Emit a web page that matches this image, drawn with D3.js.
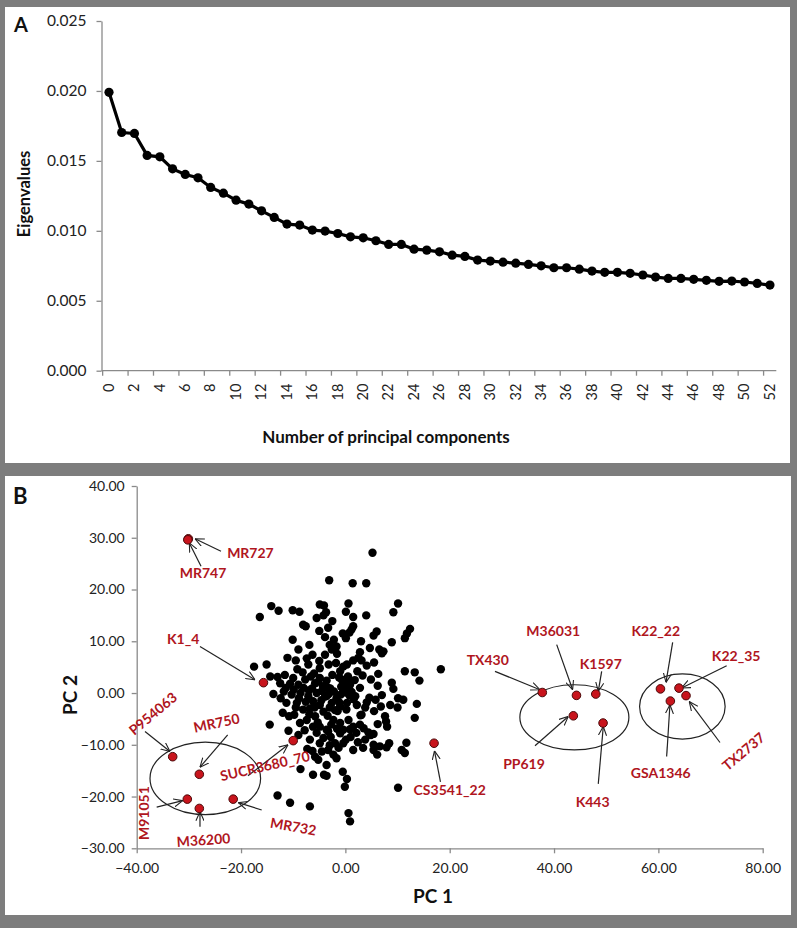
<!DOCTYPE html>
<html><head><meta charset="utf-8">
<script src="https://cdn.jsdelivr.net/npm/d3@7"></script>
<style>
body{margin:0;background:#fff}
svg{display:block}
text{font-family:Lato,"Open Sans",sans-serif}
</style>
</head><body>
<svg id="chart" width="797" height="928"></svg>
<script>
// ---------- DATA ----------
const components = [0,1,2,3,4,5,6,7,8,9,10,11,12,13,14,15,16,17,18,19,20,21,22,23,24,25,26,27,28,29,30,31,32,33,34,35,36,37,38,39,40,41,42,43,44,45,46,47,48,49,50,51,52];
const eigenvalues = [0.0199,0.01703,0.01696,0.01539,0.01529,0.01443,0.01403,0.01379,0.01310,0.01269,
  0.01219,0.01191,0.01143,0.01096,0.01048,0.01041,0.01005,0.00998,0.00981,0.00957,
  0.00950,0.00929,0.00903,0.00903,0.00869,0.00862,0.00850,0.00826,0.00817,0.00791,
  0.00784,0.00776,0.00769,0.00760,0.00750,0.00736,0.00736,0.00726,0.00712,0.00703,
  0.00703,0.00696,0.00684,0.00669,0.00660,0.00660,0.00653,0.00646,0.00639,0.00641,
  0.00634,0.00624,0.00612];
const eigenTicks = [0,0.005,0.010,0.015,0.020,0.025];
const componentLabels = [0,2,4,6,8,10,12,14,16,18,20,22,24,26,28,30,32,34,36,38,40,42,44,46,48,50,52];

const pc1Ticks = [-40,-20,0,20,40,60,80];
const pc2Ticks = [-30,-20,-10,0,10,20,30,40];

// unlabelled accessions [PC1, PC2]
const accessions = [
 [5.2,27.1],[-3.1,21.8],[1.4,21.2],[4.0,21.2],
 [-14.2,16.8],[-12.8,15.9],[-16.4,14.7],[-10.1,16.0],[-8.8,15.7],[-4.9,17.1],[-4.1,16.9],[-5.5,14.5],[-3.7,15.6],[-4.2,15.0],[0.1,15.7],[0.6,17.3],[1.5,14.7],[4.0,15.0],[10.1,17.3],[9.2,15.6],
 [-8.1,13.2],[-7.6,12.9],[-3.3,12.6],[1.5,12.9],[1.2,12.3],[0.8,11.7],[6.0,11.9],[5.4,11.1],[12.4,12.4],[11.8,11.5],[11.4,10.6],
 [-10.1,10.3],[-3.9,10.8],[-2.2,10.3],[-0.5,11.5],[0.1,10.6],[-6.9,9.3],[-9.0,8.4],[-3.0,9.3],[-1.7,9.0],[-2.6,8.4],[-6.3,7.4],[-3.9,7.4],[-1.6,7.6],[2.8,7.9],[2.5,6.8],[4.7,8.7],[6.5,8.4],[7.0,7.7],[8.9,9.8],[7.3,8.05],
 [-11.1,6.8],[-9.5,6.3],[-7.1,5.5],[-4.9,4.8],[-0.4,5.1],[0.3,5.5],[1.5,6.3],[3.1,6.3],[4.1,5.3],[5.5,5.9],[6.3,3.7],[11.4,4.2],[13.3,4.0],[14.2,2.4],
 [-17.5,5.1],[-15.1,5.5],[-14.4,3.2],[-13.0,3.1],[-11.6,3.5],[-12.5,1.9],[-11.4,1.0],
 [-10.0,2.9],[-9.0,1.6],[-7.7,2.6],[-6.6,3.2],[-5.8,1.9],[-4.9,2.9],[-3.6,2.4],[-4.3,1.3],[-3.3,1.0],
 [-0.7,2.6],[-0.1,1.9],[0.3,1.3],[-0.4,0.6],[0.9,1.6],[2.8,1.0],[8.9,2.0],[9.2,0.8],[10.1,-1.0],[11.1,-1.3],[8.6,-2.3],[10.0,-2.8],[13.7,-2.1],[13.3,-4.8],
 [-12.4,-1.0],[-11.3,-1.9],[-10.3,-0.3],[-9.3,-1.9],[-8.6,0.0],[-8.1,-3.2],
 [-7.1,-0.6],[-6.2,-1.6],[-5.5,0.0],[-4.9,-2.3],[-3.6,-0.6],[-2.6,-1.9],[-4.2,-3.6],
 [-1.7,-1.0],[-1.0,-2.6],[0.3,-1.9],[1.9,-0.6],[2.2,-2.3],[3.1,-4.2],
 [-12.0,-3.8],[-9.8,-4.2],[-8.7,-5.8],[-7.4,-5.2],[-14.5,-6.1],
 [-6.2,-6.5],[-4.9,-6.5],[-3.6,-7.1],
 [-2.3,-5.2],[-1.0,-5.8],[-0.4,-7.1],[0.6,-5.2],[1.5,-6.5],[2.8,-6.1],[2.9,-4.3],
 [4.4,-7.6],[5.4,-7.9],[4.9,-8.1],[7.6,-4.5],[7.8,-5.5],[8.0,-6.5],[8.4,-9.7],[7.9,-10.5],[10.8,-11.0],[11.4,-11.6],[11.7,-9.6],
 [3.4,-10.6],[5.4,-10.0],[6.6,-10.3],[5.4,-11.0],[6.1,-11.9],
 [1.5,-11.0],[-0.4,-9.7],[-2.0,-9.7],[-2.3,-11.9],[-1.7,-12.6],
 [-4.2,-8.7],[-4.9,-9.7],[-5.5,-7.7],[-3.3,-7.4],
 [-5.8,-12.3],[-5.2,-12.9],[-4.5,-11.3],[-3.3,-11.0],[-3.6,-13.9],
 [-8.6,-14.7],[-6.2,-15.8],[-4.1,-15.8],[-3.6,-16.0],[-0.5,-15.2],[0.3,-16.6],[-0.1,-18.1],[10.1,-18.3],
 [-13.0,-19.8],[-10.6,-21.2],[-6.8,-21.9],[0.6,-23.2],[0.9,-24.8],
 [18.3,4.6],
 [-8.0,1.0],[-7.0,0.5],[-6.0,3.8],[-5.2,2.2],[-2.5,3.5],[-1.2,3.0],[0.5,3.2],[1.8,2.5],[-0.9,-0.3],[0.8,-0.5],[1.2,0.2],[-2.2,0.3],
 [-3.0,-2.8],[-6.8,-3.0],[-5.8,-4.5],[-9.5,-2.8],[-10.8,-4.5],[-7.8,-7.2],[-1.5,-3.5],[0.2,-3.2],[1.0,-8.5],[-2.8,-8.5],[-1.0,-7.8],
 [3.8,-2.8],[4.6,-0.9],[5.5,-3.5],[6.2,-6.0],[-11.8,0.3],[-10.6,1.8],[-13.8,-0.2],[2.3,4.2],[-1.8,5.8],[-5.0,6.2],[-8.2,4.0],
 [-3.9,-0.7],[-3.2,-0.2],[-4.5,0.4],[-2.9,0.9],[-0.3,2.0],[0.5,2.4],[-0.8,1.2],[0.1,0.1],[1.6,-1.2],[-1.2,-1.8],
 [-2.0,-3.3],[-3.4,-4.4],[-5.3,-5.7],[-6.9,-4.1],[-8.9,-1.0],[-9.9,0.7],[-7.6,-1.7],[-6.4,0.9],[-4.6,-1.4],[-5.9,-2.8],
 [-2.7,-6.1],[-1.6,-6.9],[0.9,-7.0],[2.1,-7.7],[3.5,-6.8],[0.1,-9.0],[-1.3,-10.6],[-3.0,-10.1],[-6.8,-9.0],[-7.3,-10.8],
 [-6.3,-11.2],[-9.0,-8.1],[-10.9,-7.3],[3.8,-9.0],[2.4,-9.5],[4.1,-1.8],[5.8,-1.3],[6.8,-2.6],[7.0,-0.4],
 [6.2,1.4],[4.9,2.6],[3.3,3.4],[-1.0,4.2],[-3.2,5.5],[-7.4,6.7],[-9.2,4.6],[-2.5,13.9],[3.0,10.0],[-5.0,12.0]
];

// highlighted accessions
const highlightNames = ["MR727","MR747","K1_4","P954063","MR750","SUCR3680_70","M91051","M36200","MR732","CS3541_22",
  "TX430","M36031","K1597","PP619","K443","K22_22","K22_35","GSA1346","TX2737"];
const highlightPC1 = [-30.1,-30.2,-15.7,-33.1,-28.0,-10.0,-30.3,-28.0,-21.5,17.0,37.75,44.3,48.0,43.7,49.4,60.4,63.95,62.3,65.3];
const highlightPC2 = [29.8,29.6,2.0,-12.3,-15.7,-9.2,-20.5,-22.3,-20.5,-9.7,0.1,-0.45,-0.2,-4.4,-5.8,0.8,0.95,-1.55,-0.5];

// ---------- LAYOUT (annotation placement in data units) ----------
// [labelX, labelY, rotation, arrowFromX, arrowFromY, arrowToX, arrowToY]
const labelLayout = {
  "MR727":[-18.2,27.1,0,-23.84,27.4,-28.82,29.8],
  "MR747":[-27.3,23.2,0,-27.67,24.5,-29.92,29.0],
  "K1_4":[-31.1,10.45,0,-27.87,9.0,-17.32,2.57],
  "P954063":[-36.9,-4.0,-40,-38.41,-7.43,-33.62,-11.3],
  "MR750":[-24.7,-5.8,-12,-22.56,-8.07,-27.87,-14.32],
  "SUCR3680_70":[-15.4,-14.1,-13,-18.67,-16.0,-11.0,-10.0],
  "M91051":[-38.7,-23.2,-90,-36.17,-22.06,-31.18,-20.79],
  "M36200":[-27.2,-28.4,-4,-27.87,-25.82,-27.87,-22.92],
  "MR732":[-10.0,-25.8,10,-16.04,-22.59,-20.52,-21.17],
  "CS3541_22":[20.0,-18.7,0,18.23,-17.17,17.08,-11.17],
  "TX430":[27.3,6.3,0,28.68,4.18,37.3,0.64],
  "M36031":[39.85,11.9,0,40.51,9.35,43.57,0.64],
  "K1597":[48.96,5.67,0,49.13,4.18,48.48,0.31],
  "PP619":[34.24,-13.7,0,36.35,-10.2,42.73,-4.53],
  "K443":[47.4,-21.0,0,48.48,-17.55,49.44,-6.46],
  "K22_22":[59.5,12.06,0,62.74,9.79,61.46,2.05],
  "K22_35":[74.9,7.08,0,73.09,5.28,64.47,0.97],
  "GSA1346":[60.46,-15.4,0,61.59,-12.27,62.22,-2.26],
  "TX2737":[76.3,-11.3,-40,71.81,-9.56,65.92,-1.63]
};
// group ellipses [cx, cy, rx, ry] in data units
const groupEllipses = [[-26.85,-16.5,10.6,7.0],[43.9,-4.7,10.45,6.3],[64.6,-2.6,8.2,6.3]];

// ---------- DRAW ----------
const svg = d3.select("#chart");
const axisGrey = "#8a8a8a";
const red = "#b0161e";

// frame
svg.append("rect").attr("width",797).attr("height",928).attr("fill","#7d7d7d");
svg.append("rect").attr("x",5).attr("y",7).attr("width",785).attr("height",456).attr("fill","#fff");
svg.append("rect").attr("x",5).attr("y",476).attr("width",786).attr("height",439).attr("fill","#fff");

// ===== Panel A =====
const xA = d3.scaleBand().domain(components).range([102.65,776.3]).padding(0);
const yA = d3.scaleLinear().domain([0,0.025]).range([370.7,21]);
const gA = svg.append("g");

const yAxisA = gA.append("g").attr("transform","translate(101.5,0)")
  .call(d3.axisLeft(yA).tickValues(eigenTicks).tickFormat(d3.format(".3f")).tickSize(5).tickSizeOuter(0));
yAxisA.select(".domain").attr("stroke",axisGrey).attr("stroke-width",1.3);
yAxisA.selectAll(".tick line").attr("stroke",axisGrey).attr("stroke-width",1.3);
yAxisA.selectAll(".tick text").attr("font-size",15.5).attr("fill","#222").attr("x",-15);

// x axis A
gA.append("line").attr("x1",xA.range()[0]-1).attr("x2",xA.range()[1]).attr("y1",yA(0)).attr("y2",yA(0))
  .attr("stroke",axisGrey).attr("stroke-width",1.3);
gA.selectAll(".xtickA").data(componentLabels).join("line")
  .attr("x1",d=>xA(d)).attr("x2",d=>xA(d)).attr("y1",yA(0)).attr("y2",yA(0)+5)
  .attr("stroke",axisGrey).attr("stroke-width",1.3);
gA.selectAll(".xlabA").data(componentLabels).join("text")
  .attr("transform",d=>`translate(${xA(d)+xA.bandwidth()/2},${yA(0)+13}) rotate(-90)`)
  .attr("text-anchor","end").attr("dy","0.33em").attr("font-size",14.5).attr("fill","#222")
  .text(d=>d);

// line + markers
const lineA = d3.line().x((d,i)=>xA(components[i])+xA.bandwidth()/2).y(d=>yA(d));
gA.append("path").datum(eigenvalues).attr("d",lineA).attr("fill","none").attr("stroke","#000").attr("stroke-width",3.2);
gA.selectAll(".ptA").data(eigenvalues).join("circle")
  .attr("cx",(d,i)=>xA(components[i])+xA.bandwidth()/2).attr("cy",d=>yA(d)).attr("r",4.6).attr("fill","#000");

gA.append("text").attr("transform","translate(30,194) rotate(-90)").attr("text-anchor","middle")
  .attr("font-size",16.5).attr("font-weight","bold").attr("fill","#111").text("Eigenvalues");
gA.append("text").attr("x",386).attr("y",443).attr("text-anchor","middle")
  .attr("font-size",17).attr("font-weight","bold").attr("fill","#111").text("Number of principal components");
gA.append("text").attr("x",14).attr("y",32).attr("font-size",20).attr("font-weight","bold").attr("fill","#111").text("A");

// ===== Panel B =====
const xB = d3.scaleLinear().domain([-40,80]).range([136.7,762.7]);
const yB = d3.scaleLinear().domain([-30,40]).range([848.3,486]);
const gB = svg.append("g");

const yAxisB = gB.append("g").attr("transform",`translate(${xB(-40)},0)`)
  .call(d3.axisLeft(yB).tickValues(pc2Ticks).tickFormat(d3.format(".2f")).tickSize(5).tickSizeOuter(0));
yAxisB.select(".domain").attr("stroke",axisGrey).attr("stroke-width",1.3);
yAxisB.selectAll(".tick line").attr("stroke",axisGrey).attr("stroke-width",1.3);
yAxisB.selectAll(".tick text").attr("font-size",14).attr("fill","#222").attr("x",-12);

const xAxisB = gB.append("g").attr("transform",`translate(0,${yB(-30)})`)
  .call(d3.axisBottom(xB).tickValues(pc1Ticks).tickFormat(d3.format(".2f")).tickSize(5).tickSizeOuter(0));
xAxisB.select(".domain").attr("stroke",axisGrey).attr("stroke-width",1.3);
xAxisB.selectAll(".tick line").attr("stroke",axisGrey).attr("stroke-width",1.3);
xAxisB.selectAll(".tick text").attr("font-size",14).attr("fill","#222").attr("y",15);

gB.append("text").attr("x",433).attr("y",903).attr("text-anchor","middle")
  .attr("font-size",19).attr("font-weight","bold").attr("fill","#111").text("PC 1");
gB.append("text").attr("transform","translate(77,695) rotate(-90)").attr("text-anchor","middle")
  .attr("font-size",19).attr("font-weight","bold").attr("fill","#111").text("PC 2");
gB.append("text").attr("x",13).attr("y",504).attr("font-size",22).attr("font-weight","bold").attr("fill","#111").text("B");

// black points
gB.selectAll(".acc").data(accessions).join("circle")
  .attr("cx",d=>xB(d[0])).attr("cy",d=>yB(d[1])).attr("r",4.2).attr("fill","#000");

// ellipses
gB.selectAll(".grp").data(groupEllipses).join("ellipse")
  .attr("cx",d=>xB(d[0])).attr("cy",d=>yB(d[1]))
  .attr("rx",d=>xB(d[0]+d[2])-xB(d[0])).attr("ry",d=>yB(d[1]-d[3])-yB(d[1]))
  .attr("fill","none").attr("stroke","#222").attr("stroke-width",1.2);

// arrow marker
svg.append("defs").append("marker").attr("id","arr").attr("viewBox","0 0 10 10")
  .attr("refX",10).attr("refY",5).attr("markerWidth",9).attr("markerHeight",9)
  .attr("markerUnits","userSpaceOnUse").attr("orient","auto")
  .append("path").attr("d","M0,0.5 L10,5 L0,9.5").attr("fill","none").attr("stroke","#222").attr("stroke-width",1.2);

const highlights = highlightNames.map((n,i)=>({name:n,x:highlightPC1[i],y:highlightPC2[i],lay:labelLayout[n]}));

gB.selectAll(".arrow").data(highlights).join("line")
  .attr("x1",d=>xB(d.lay[3])).attr("y1",d=>yB(d.lay[4]))
  .attr("x2",d=>xB(d.lay[5])).attr("y2",d=>yB(d.lay[6]))
  .attr("stroke","#222").attr("stroke-width",1.2).attr("marker-end","url(#arr)");

gB.selectAll(".hl").data(highlights).join("circle")
  .attr("cx",d=>xB(d.x)).attr("cy",d=>yB(d.y)).attr("r",4.3)
  .attr("fill","#c8141c").attr("stroke","#4a0a0a").attr("stroke-width",1);

gB.selectAll(".hlab").data(highlights).join("text")
  .attr("transform",d=>`translate(${xB(d.lay[0])},${yB(d.lay[1])}) rotate(${d.lay[2]})`)
  .attr("text-anchor","middle").attr("dy","0.36em")
  .attr("font-size",14).attr("font-weight","bold").attr("fill",red)
  .text(d=>d.name);
</script>
</body></html>
